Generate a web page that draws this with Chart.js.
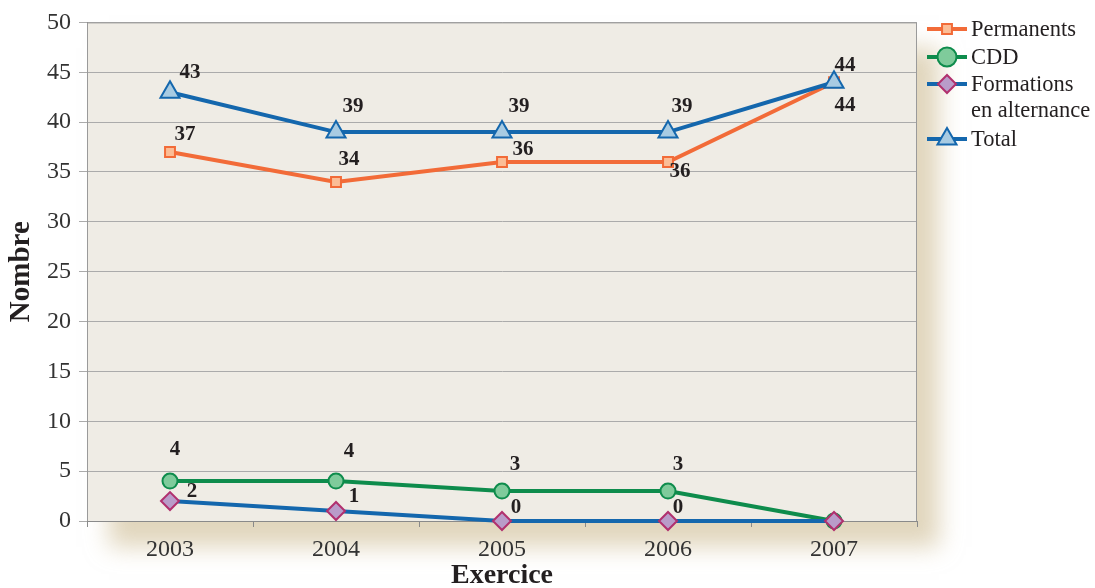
<!DOCTYPE html>
<html lang="fr">
<head>
<meta charset="utf-8">
<title>Effectifs par exercice</title>
<script src="https://cdn.jsdelivr.net/npm/chart.js@4/dist/chart.umd.min.js"></script>
<style>
  html, body { margin: 0; padding: 0; background: #fff; }
  #wrap { width: 1095px; height: 588px; position: relative; }
</style>
</head>
<body>
<div id="wrap"><canvas id="effectifsChart"></canvas></div>
<script>
/* Effectifs par exercice — courbes avec étiquettes de valeurs */

const exercices = ['2003', '2004', '2005', '2006', '2007'];
const permanents = [37, 34, 36, 36, 44];
const cdd = [4, 4, 3, 3, 0];
const formations = [2, 1, 0, 0, 0];
const total = [43, 39, 39, 39, 44];

const SERIF = '"Liberation Serif", "DejaVu Serif", serif';
const PLOT_BG = '#efece5';
const TEXT = '#231f20';

// décalage des étiquettes (dx, dy) par point ; null = pas d'étiquette
const labelOffsets = [
    [[15, -17], [13, -22], [21, -12], [12, 10], [11, 23]],
    [[5, -32], [13, -30], [13, -27], [10, -27], null],
    [[22, -9], [18, -14], [14, -13], [10, -13], null],
    [[20, -20], [17, -26], [17, -26], [14, -26], [11, -17]]
];

const legendLines = [['Permanents'], ['CDD'], ['Formations', 'en alternance'], ['Total']];
const legendRadius = [7, 9.5, 9, 11];

const plotFramePlugin = {
    id: 'plotFrame',
    beforeDraw(chart) {
        const { ctx, chartArea: a } = chart;
        ctx.save();
        ctx.shadowColor = 'rgba(205, 186, 145, 0.6)';
        ctx.shadowBlur = 22;
        ctx.shadowOffsetX = 22;
        ctx.shadowOffsetY = 26;
        ctx.fillStyle = PLOT_BG;
        ctx.fillRect(a.left, a.top, a.right - a.left, a.bottom - a.top);
        ctx.restore();
        ctx.save();
        ctx.fillStyle = PLOT_BG;
        ctx.fillRect(a.left, a.top, a.right - a.left, a.bottom - a.top);
        ctx.restore();
    },
    afterDraw(chart) {
        const { ctx, chartArea: a } = chart;
        ctx.save();
        ctx.strokeStyle = '#9a9a9a';
        ctx.lineWidth = 1;
        ctx.beginPath();
        ctx.moveTo(a.left + 0.5, a.bottom);
        ctx.lineTo(a.left + 0.5, a.top + 0.5);
        ctx.lineTo(a.right - 0.5, a.top + 0.5);
        ctx.lineTo(a.right - 0.5, a.bottom);
        ctx.stroke();
        ctx.restore();
    }
};

const valueLabelsPlugin = {
    id: 'valueLabels',
    afterDatasetsDraw(chart) {
        const ctx = chart.ctx;
        ctx.save();
        ctx.font = 'bold 21px ' + SERIF;
        ctx.fillStyle = TEXT;
        ctx.textAlign = 'center';
        ctx.textBaseline = 'middle';
        chart.data.datasets.forEach((ds, di) => {
            const meta = chart.getDatasetMeta(di);
            meta.data.forEach((pt, i) => {
                const off = labelOffsets[di][i];
                if (!off) return;
                ctx.fillText(String(ds.data[i]), pt.x + off[0], pt.y + off[1]);
            });
        });
        ctx.restore();
    }
};

const sideLegendPlugin = {
    id: 'sideLegend',
    afterDraw(chart) {
        const ctx = chart.ctx;
        const x0 = 927, x1 = 967;
        const rows = [29, 57, 84, 139];
        ctx.save();
        ctx.font = '22.5px ' + SERIF;
        ctx.textBaseline = 'middle';
        chart.data.datasets.forEach((ds, di) => {
            const y = rows[di];
            ctx.strokeStyle = ds.borderColor;
            ctx.lineWidth = 4;
            ctx.beginPath();
            ctx.moveTo(x0, y);
            ctx.lineTo(x1, y);
            ctx.stroke();
            ctx.fillStyle = ds.pointBackgroundColor;
            ctx.strokeStyle = ds.pointBorderColor;
            ctx.lineWidth = ds.pointBorderWidth;
            Chart.helpers.drawPoint(ctx, {
                pointStyle: ds.pointStyle,
                radius: legendRadius[di],
                rotation: 0,
                borderWidth: ds.pointBorderWidth
            }, (x0 + x1) / 2, y);
            ctx.fillStyle = TEXT;
            legendLines[di].forEach((line, li) => {
                ctx.fillText(line, x1 + 4, y + 1 + li * 26);
            });
        });
        ctx.restore();
    }
};

function series(label, data, color, style, radius, fill, border, order) {
    return {
        label,
        data,
        order,
        borderColor: color,
        borderWidth: 4,
        pointStyle: style,
        pointRadius: radius,
        pointHoverRadius: radius,
        pointBackgroundColor: fill,
        pointBorderColor: border,
        pointBorderWidth: 2,
        tension: 0,
        clip: false
    };
}

new Chart(document.getElementById('effectifsChart'), {
    type: 'line',
    data: {
        labels: exercices,
        datasets: [
            series('Permanents', permanents, '#f26b38', 'rect', 7, '#fbbd96', '#f26b38', 4),
            series('CDD', cdd, '#0e8c4c', 'circle', 7.5, '#7fcb9b', '#0e8c4c', 3),
            series('Formations en alternance', formations, '#1467ad', 'rectRot', 9, '#b99cc9', '#b1306e', 2),
            series('Total', total, '#1467ad', 'triangle', 11, '#a8cbe2', '#1467ad', 1)
        ]
    },
    options: {
        responsive: true,
        maintainAspectRatio: false,
        animation: false,
        layout: { padding: { top: 22, right: 178, left: 0, bottom: 0 } },
        plugins: {
            legend: { display: false },
            tooltip: { enabled: false }
        },
        scales: {
            x: {
                offset: true,
                grid: {
                    offset: true,
                    drawOnChartArea: false,
                    drawTicks: true,
                    tickLength: 6,
                    color: '#8a8a8a'
                },
                border: { display: true, color: '#8a8a8a' },
                ticks: {
                    font: { family: SERIF, size: 24 },
                    color: '#333',
                    padding: 8
                },
                title: {
                    display: true,
                    text: 'Exercice',
                    font: { family: SERIF, size: 28, weight: 'bold' },
                    color: TEXT,
                    padding: { top: 0, bottom: -5 }
                },
                afterFit(scale) { scale.height = 67; }
            },
            y: {
                min: 0,
                max: 50,
                ticks: {
                    stepSize: 5,
                    font: { family: SERIF, size: 24 },
                    color: '#333',
                    padding: 8
                },
                grid: {
                    color: '#ababab',
                    lineWidth: 1,
                    drawTicks: true,
                    tickLength: 8
                },
                border: { display: true, color: '#8a8a8a' },
                title: {
                    display: true,
                    text: 'Nombre',
                    font: { family: SERIF, size: 29, weight: 'bold' },
                    color: TEXT,
                    padding: { top: 4, bottom: 0 }
                },
                afterFit(scale) { scale.width = 87; }
            }
        }
    },
    plugins: [plotFramePlugin, valueLabelsPlugin, sideLegendPlugin]
});
</script>
</body>
</html>
